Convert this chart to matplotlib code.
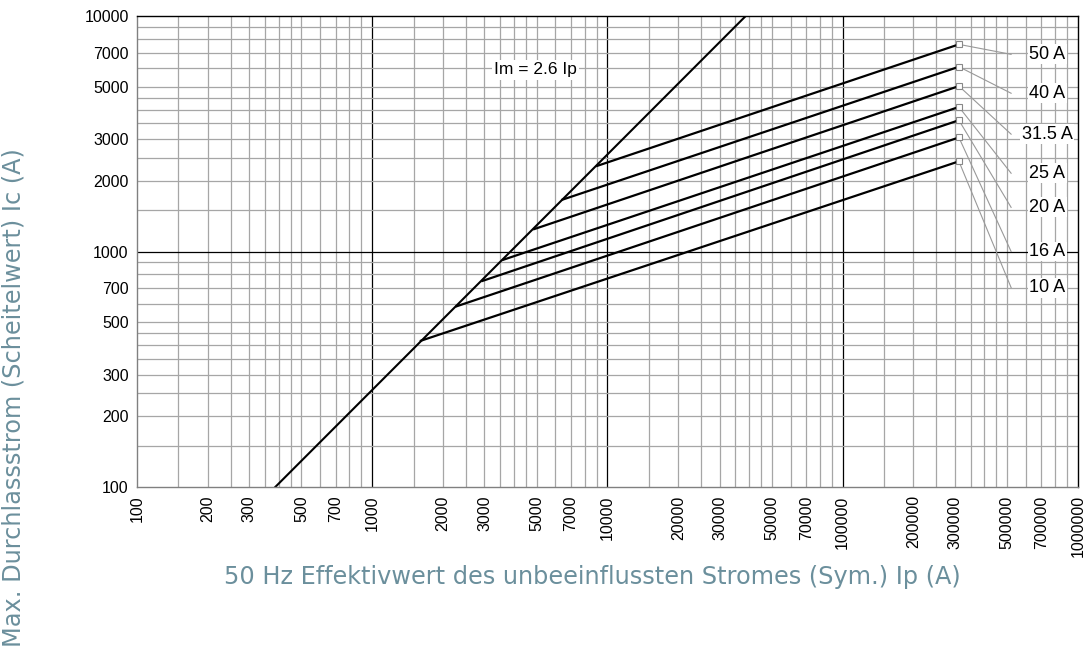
import numpy as np
import matplotlib.pyplot as plt

# limiting curves: start on the Im line, end at the max prospective current
ratings = ["50 A", "40 A", "31.5 A", "25 A", "20 A", "16 A", "10 A"]
ip_start = [9040, 6430, 4880, 3600, 2940, 2280, 1610]
ic_start = [2310, 1660, 1245, 922, 750, 585, 418]
ip_end = [312000, 312000, 312000, 312000, 312000, 312000, 312000]
ic_end = [7580, 6090, 5040, 4110, 3610, 3050, 2415]
label_ic = [6875, 4700, 3150, 2150, 1540, 1000, 703]

# Im = 2.6 Ip reference line
im_ip = [387, 38700]
im_ic = [100, 10000]

tick_vals = [100, 200, 300, 500, 700, 1000, 2000, 3000, 5000, 7000, 10000,
             20000, 30000, 50000, 70000, 100000, 200000, 300000, 500000,
             700000, 1000000]
ytick_vals = [100, 200, 300, 500, 700, 1000, 2000, 3000, 5000, 7000, 10000]
grid_steps = [1.5, 2, 2.5, 3, 3.5, 4, 4.5, 5, 6, 7, 8, 9]

fig = plt.figure(figsize=(10.91, 6.49), dpi=100)
ax = fig.add_axes([0.1256, 0.2496, 0.8624, 0.7257])
ax.set_xscale("log")
ax.set_yscale("log")
ax.set_xlim(100, 1000000)
ax.set_ylim(100, 10000)

gray = "#a6a6a6"
for dec in [100, 1000, 10000, 100000]:
    for s in grid_steps:
        ax.axvline(dec * s, color=gray, lw=0.9, zorder=1)
    if dec > 100:
        ax.axvline(dec, color="black", lw=0.9, zorder=1)
for dec in [100, 1000]:
    for s in grid_steps:
        ax.axhline(dec * s, color=gray, lw=0.9, zorder=1)
    if dec > 100:
        ax.axhline(dec, color="black", lw=0.9, zorder=1)

ax.plot(im_ip, im_ic, color="black", lw=1.5, zorder=3)
for i in range(len(ratings)):
    ax.plot([ip_start[i], ip_end[i]], [ic_start[i], ic_end[i]], color="black", lw=1.6, zorder=3)
    ax.plot([ip_end[i], 520000], [ic_end[i], label_ic[i]], color="#999999", lw=0.8, zorder=2)
    ax.plot(ip_end[i], ic_end[i], marker="s", ms=4.5, mfc="white", mec="#888888", mew=0.8, zorder=4)
    ax.text(740000, label_ic[i], ratings[i], ha="center", va="center", fontsize=13,
            family="Liberation Sans", zorder=5,
            bbox=dict(facecolor="white", edgecolor="none", pad=1.0))

ax.text(4950, 5900, "Im = 2.6 Ip", ha="center", va="center", fontsize=12.5,
        family="Liberation Sans", zorder=5,
        bbox=dict(facecolor="white", edgecolor="none", pad=1.5))

ax.set_xticks(tick_vals)
ax.set_xticklabels([str(v) for v in tick_vals], rotation=90, family="Liberation Sans", fontsize=11.5)
ax.set_yticks(ytick_vals)
ax.set_yticklabels([str(v) for v in ytick_vals], family="Liberation Sans", fontsize=11.5)
ax.xaxis.set_minor_locator(plt.NullLocator())
ax.yaxis.set_minor_locator(plt.NullLocator())
ax.tick_params(length=0, pad=6)

ax.spines["left"].set_color("#808080")
ax.spines["bottom"].set_color("#808080")
ax.spines["top"].set_color("black")
ax.spines["right"].set_color("black")
for sp in ax.spines.values():
    sp.set_linewidth(1.0)
    sp.set_zorder(6)

label_color = "#6b8f9c"
fig.text(0.543, 0.111, "50 Hz Effektivwert des unbeeinflussten Stromes (Sym.) Ip (A)",
         ha="center", va="center", fontsize=17.3, color=label_color, family="DejaVu Sans")
fig.text(0.012, 0.387, "Max. Durchlassstrom (Scheitelwert) Ic (A)", rotation=90,
         ha="center", va="center", fontsize=17.3, color=label_color, family="DejaVu Sans")

fig.savefig("out.png", dpi=100)
